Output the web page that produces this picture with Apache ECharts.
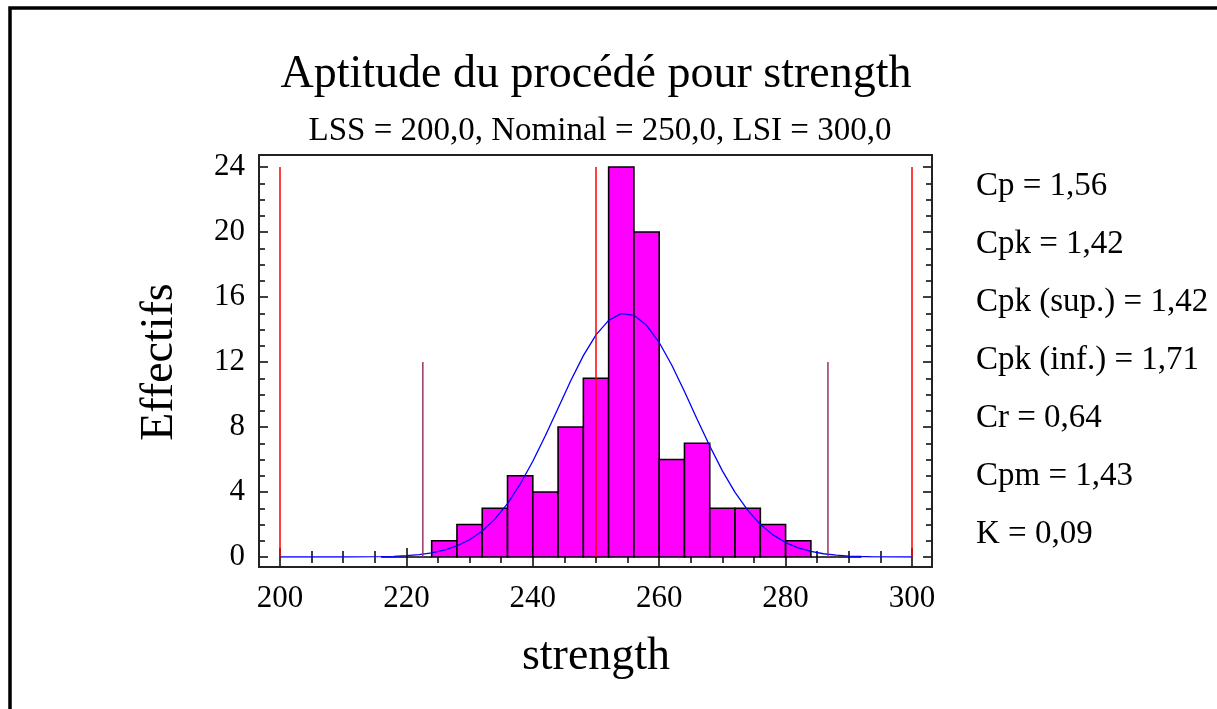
<!DOCTYPE html>
<html>
<head>
<meta charset="utf-8">
<title>Aptitude du procédé pour strength</title>
<script src="https://cdn.jsdelivr.net/npm/echarts@6/dist/echarts.min.js"></script>
<style>
html, body { margin: 0; padding: 0; background: #fff; }
#main { width: 1217px; height: 709px; }
</style>
</head>
<body>
<div id="main"></div>
<script>
// classes de l'histogramme (début de classe, largeur 4)
var binStart = [216, 220, 224, 228, 232, 236, 240, 244, 248, 252, 256, 260, 264, 268, 272, 276, 280, 284, 288];
var binCount = [0, 0, 1, 2, 3, 5, 4, 8, 11, 24, 20, 6, 7, 3, 3, 2, 1, 0, 0];
var binWidth = 4;

// courbe normale ajustée
var curveX = [200, 210, 216, 218, 220, 222, 224, 226, 228, 230, 232, 234, 236, 238, 240, 242, 244, 246, 248, 250,
	252, 254, 256, 258, 260, 262, 264, 266, 268, 270, 272, 274, 276, 278, 280, 282, 284, 286, 288, 290, 292, 294, 300];
var curveY = [0, 0, 0.02, 0.04, 0.08, 0.14, 0.25, 0.42, 0.68, 1.06, 1.60, 2.33, 3.29, 4.48, 5.89, 7.48, 9.16, 10.85, 12.39, 13.67,
	14.56, 14.98, 14.87, 14.26, 13.20, 11.80, 10.18, 8.48, 6.83, 5.30, 3.98, 2.88, 2.01, 1.36, 0.89, 0.56, 0.34, 0.20, 0.11, 0.06, 0.03, 0.01, 0];

// limites de spécification et limites à 3 sigma
var specLimits = [200, 250, 300];
var specHeight = 24;
var sigmaLimits = [222.6, 286.7];
var sigmaHeight = 12;

// indices d'aptitude
var statLabels = ['Cp = 1,56', 'Cpk = 1,42', 'Cpk (sup.) = 1,42', 'Cpk (inf.) = 1,71', 'Cr = 0,64', 'Cpm = 1,43', 'K = 0,09'];

var serif = 'Liberation Serif, Times New Roman, serif';

function renderBar(params, api) {
	var x0 = api.value(0);
	var n = api.value(1);
	var p0 = api.coord([x0, 0]);
	var p1 = api.coord([x0 + binWidth, n]);
	return {
		type : 'rect',
		shape : { x : p0[0], y : p1[1], width : p1[0] - p0[0], height : p0[1] - p1[1] },
		style : { fill : '#FF00FF', stroke : '#000', lineWidth : 1.6 }
	};
}

function renderVLine(params, api) {
	var p0 = api.coord([api.value(0), 0]);
	var p1 = api.coord([api.value(0), api.value(1)]);
	return {
		type : 'line',
		shape : { x1 : p0[0], y1 : p0[1], x2 : p1[0], y2 : p1[1] },
		style : { stroke : api.visual('color'), lineWidth : 1.5 }
	};
}

function tickAxis(extra) {
	var ax = {
		type : 'value',
		axisLine : { show : false },
		axisTick : { show : true, inside : true, length : 9, lineStyle : { color : '#000', width : 1.5 } },
		minorTick : { show : true, splitNumber : 4, length : 6, lineStyle : { color : '#000', width : 1.5 } },
		splitLine : { show : false },
		minorSplitLine : { show : false },
		axisLabel : { show : false }
	};
	for (var k in extra) {
		ax[k] = extra[k];
	}
	return ax;
}

var myChart = echarts.init(document.getElementById('main'));

var statTexts = [];
for (var i = 0; i < statLabels.length; i++) {
	statTexts.push({
		type : 'text',
		x : 976,
		y : 186 + i * 58,
		style : { text : statLabels[i], font : '33px ' + serif, fill : '#000', textAlign : 'left', textVerticalAlign : 'middle' }
	});
}

var option = {
	animation : false,
	backgroundColor : '#fff',
	grid : { left : 280, right : 305, top : 167, bottom : 152, containLabel : false },
	xAxis : [
		tickAxis({
			min : 200, max : 300, interval : 20, position : 'bottom', offset : 10,
			axisLabel : { show : true, margin : 16, fontFamily : serif, fontSize : 31, color : '#000' },
			name : 'strength', nameLocation : 'middle', nameGap : 67,
			nameTextStyle : { fontFamily : serif, fontSize : 46, color : '#000' }
		}),
		tickAxis({ min : 200, max : 300, interval : 20, position : 'top', offset : 12 })
	],
	yAxis : [
		tickAxis({
			min : 0, max : 24, interval : 4, position : 'left', offset : 21,
			axisLabel : { show : true, margin : 14, fontFamily : serif, fontSize : 31, color : '#000' },
			name : 'Effectifs', nameLocation : 'middle', nameGap : 76,
			nameTextStyle : { fontFamily : serif, fontSize : 46, color : '#000' }
		}),
		tickAxis({ min : 0, max : 24, interval : 4, position : 'right', offset : 20 })
	],
	graphic : [ {
		type : 'rect',
		shape : { x : 10, y : 8, width : 1240, height : 740 },
		style : { fill : null, stroke : '#000', lineWidth : 3.5 }
	}, {
		type : 'rect',
		shape : { x : 259, y : 155, width : 673, height : 412 },
		style : { fill : null, stroke : '#222', lineWidth : 2 },
		z : 10
	}, {
		type : 'text',
		x : 596,
		y : 75,
		style : { text : 'Aptitude du procédé pour strength', font : '46px ' + serif, fill : '#000', textAlign : 'center', textVerticalAlign : 'middle' }
	}, {
		type : 'text',
		x : 600,
		y : 131,
		style : { text : 'LSS = 200,0, Nominal = 250,0, LSI = 300,0', font : '33px ' + serif, fill : '#000', textAlign : 'center', textVerticalAlign : 'middle' }
	} ].concat(statTexts),
	series : [ {
		name : 'Effectifs',
		type : 'custom',
		renderItem : renderBar,
		encode : { x : 0, y : 1 },
		data : binStart.map(function(x, i) { return [x, binCount[i]]; }),
		z : 2
	}, {
		name : 'Normale',
		type : 'line',
		data : curveX.map(function(x, i) { return [x, curveY[i]]; }),
		showSymbol : false,
		smooth : false,
		lineStyle : { color : '#0000FF', width : 1.3 },
		itemStyle : { color : '#0000FF' },
		z : 3
	}, {
		name : 'Limites',
		type : 'custom',
		renderItem : renderVLine,
		encode : { x : 0, y : 1 },
		itemStyle : { color : '#FF0000' },
		data : specLimits.map(function(x) { return [x, specHeight]; }),
		z : 4
	}, {
		name : '3 sigma',
		type : 'custom',
		renderItem : renderVLine,
		encode : { x : 0, y : 1 },
		itemStyle : { color : '#993366' },
		data : sigmaLimits.map(function(x) { return [x, sigmaHeight]; }),
		z : 4
	} ]
};

myChart.setOption(option);
</script>
</body>
</html>
